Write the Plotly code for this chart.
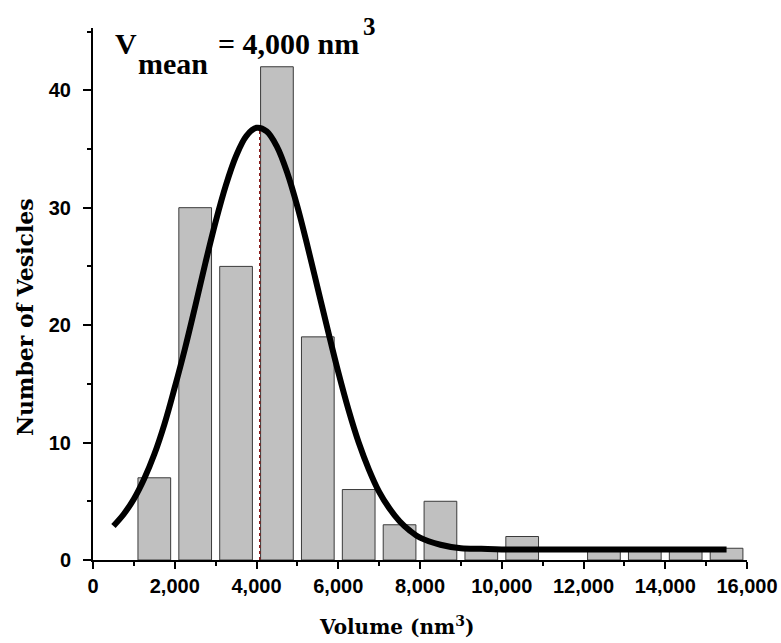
import plotly.graph_objects as go

# Histogram data (bin centers in nm^3, counts)
bin_centers = [1500, 2500, 3500, 4500, 5500, 6500, 7500, 8500, 9500,
               10500, 11500, 12500, 13500, 14500, 15500]
counts = [7, 30, 25, 42, 19, 6, 3, 5, 1, 2, 0, 1, 1, 1, 1]

# Fitted curve
fit_x = [500, 750, 1000, 1250, 1500, 1750, 2000, 2250, 2500, 2750, 3000,
         3250, 3500, 3750, 4000, 4250, 4500, 4750, 5000, 5250, 5500, 5750,
         6000, 6250, 6500, 6750, 7000, 7250, 7500, 7750, 8000, 8500, 9000,
         9500, 10000, 11000, 12000, 13000, 14000, 15000, 15500]
fit_y = [2.9, 3.9, 5.2, 6.9, 9.0, 11.6, 14.7, 18.0, 21.6, 25.3, 28.8,
         31.9, 34.4, 36.1, 36.8, 36.5, 35.2, 33.0, 30.1, 26.7, 23.1, 19.5,
         16.0, 12.8, 10.0, 7.7, 5.8, 4.4, 3.3, 2.5, 1.9, 1.3, 1.0,
         0.95, 0.9, 0.9, 0.9, 0.9, 0.9, 0.9, 0.9]

# Mean marker (dotted line) position and height
mean_x = [4080, 4080]
mean_y = [0, 36.7]

x_tickvals = [0, 2000, 4000, 6000, 8000, 10000, 12000, 14000, 16000]
y_tickvals = [0, 10, 20, 30, 40]

L, R, T, B, W, H = 93, 34, 28, 83, 781, 643
PW, PH = W - L - R, H - T - B

fig = go.Figure()
fig.add_trace(go.Bar(
    x=bin_centers, y=counts,
    marker=dict(color="#c0c0c0",
                line=dict(color="#3a3a3a", width=[0 if c == 0 else 1 for c in counts])),
    showlegend=False,
))
fig.add_trace(go.Scatter(
    x=mean_x, y=mean_y, mode="lines",
    line=dict(color="#8b1a1a", width=1.5, dash="dot"),
    showlegend=False,
))
fig.add_trace(go.Scatter(
    x=fit_x, y=fit_y, mode="lines", line_shape="spline",
    line=dict(color="black", width=6),
    showlegend=False,
))

tickfont = dict(family="Liberation Sans", size=20, color="black", weight="bold")

fig.update_layout(
    width=W, height=H,
    margin=dict(l=L, r=R, t=T, b=B),
    plot_bgcolor="white", paper_bgcolor="white",
    bargap=0.2,
    xaxis=dict(
        range=[0, 16000], tickvals=x_tickvals, tickformat=",d",
        ticks="outside", ticklen=7, tickwidth=2, tickcolor="black",
        showline=True, linecolor="black", linewidth=2,
        showgrid=False, zeroline=False, automargin=False,
        tickfont=tickfont,
        minor=dict(tickvals=[1000, 3000, 5000, 7000, 9000, 11000, 13000, 15000],
                   ticks="outside", ticklen=4, tickwidth=1.5, tickcolor="black"),
    ),
    yaxis=dict(
        range=[0, 45.3], tickvals=y_tickvals,
        ticks="outside", ticklen=8, tickwidth=2, tickcolor="black",
        showline=True, linecolor="black", linewidth=2,
        showgrid=False, zeroline=False, automargin=False,
        tickfont=tickfont, ticklabelstandoff=8,
        minor=dict(tickvals=[5, 15, 25, 35, 45],
                   ticks="outside", ticklen=4, tickwidth=1.5, tickcolor="black"),
    ),
    font=dict(family="Liberation Serif", color="black"),
)


def px_x(p):
    return (p - L) / PW


def px_y(p):
    return (H - p - B) / PH


serif = "Liberation Serif"
ann = [
    dict(text="<b>V</b>", x=113, y=62, size=30),
    dict(text="<b>mean</b>", x=136, y=82, size=30),
    dict(text="<b>= 4,000 nm</b>", x=216, y=62, size=30),
    dict(text="<b>3</b>", x=361, y=42, size=25),
]
for a in ann:
    fig.add_annotation(
        text=a["text"], xref="paper", yref="paper",
        x=px_x(a["x"]), y=px_y(a["y"]),
        xanchor="left", yanchor="bottom", showarrow=False,
        font=dict(family=serif, size=a["size"], color="black"),
    )

fig.add_annotation(
    text="<b>Volume (nm<sup>3</sup>)</b>", xref="paper", yref="paper",
    x=px_x(396), y=px_y(641), xanchor="center", yanchor="bottom", showarrow=False,
    font=dict(family="DejaVu Serif", size=20, color="black"),
)
fig.add_annotation(
    text="<b>Number of Vesicles</b>", xref="paper", yref="paper",
    x=px_x(25), y=px_y(317),
    xanchor="center", yanchor="middle", textangle=-90, showarrow=False,
    font=dict(family="DejaVu Serif", size=22, color="black"),
)

fig.write_html("out.html", config={"displayModeBar": False},
               post_script="document.body.style.margin='0px';")
